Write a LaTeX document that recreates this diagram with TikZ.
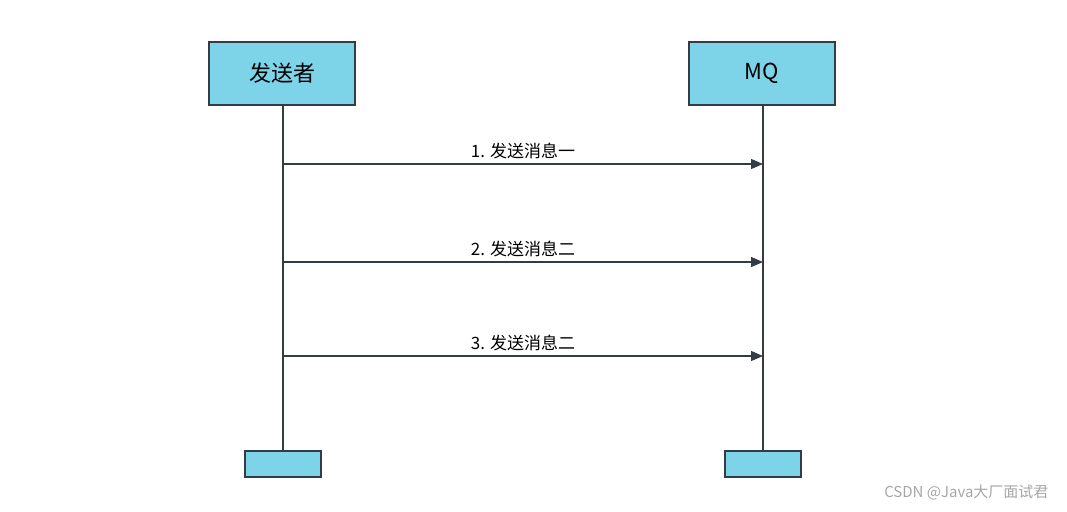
\documentclass[tikz,border=0pt]{standalone}
\usepackage{fontspec}
\setmainfont{Noto Sans CJK SC}
\usetikzlibrary{arrows.meta}
\definecolor{boxfill}{HTML}{7DD3E8}
\definecolor{linec}{HTML}{333B44}
\tikzset{
  actor/.style={draw=linec, line width=1.2pt, fill=boxfill, minimum width=146pt, minimum height=63pt, inner sep=0pt, font=\fontsize{22}{24}\selectfont},
  foot/.style={draw=linec, line width=1.2pt, fill=boxfill, minimum width=76pt, minimum height=26pt, inner sep=0pt},
  life/.style={draw=linec, line width=1.2pt},
  msg/.style={draw=linec, line width=1.2pt, -{Triangle[length=12pt,width=10pt]}},
  lbl/.style={font=\fontsize{17}{19}\selectfont, above=1pt}
}
\begin{document}
\begin{tikzpicture}[x=1pt,y=-1pt]
\useasboundingbox (0,0) rectangle (1067,511);
\node[actor] (s) at (282,73.5) {发送者};
\node[actor] (m) at (762,73.5) {MQ};
\node[foot] (sf) at (283,464) {};
\node[foot] (mf) at (763,464) {};
\draw[life] (s.south -| sf.north) -- (sf.north);
\draw[life] (m.south -| mf.north) -- (mf.north);
\coordinate (a1) at (283,164); \coordinate (b1) at (763,164);
\coordinate (a2) at (283,262); \coordinate (b2) at (763,262);
\coordinate (a3) at (283,356); \coordinate (b3) at (763,356);
\draw[msg] (a1) -- node[lbl] {1. 发送消息一} (b1);
\draw[msg] (a2) -- node[lbl] {2. 发送消息二} (b2);
\draw[msg] (a3) -- node[lbl] {3. 发送消息二} (b3);
\node[text=gray!70, font=\fontsize{15}{17}\selectfont, anchor=east] (wm) at (1052,492) {CSDN @Java大厂面试君};
\end{tikzpicture}
\end{document}
